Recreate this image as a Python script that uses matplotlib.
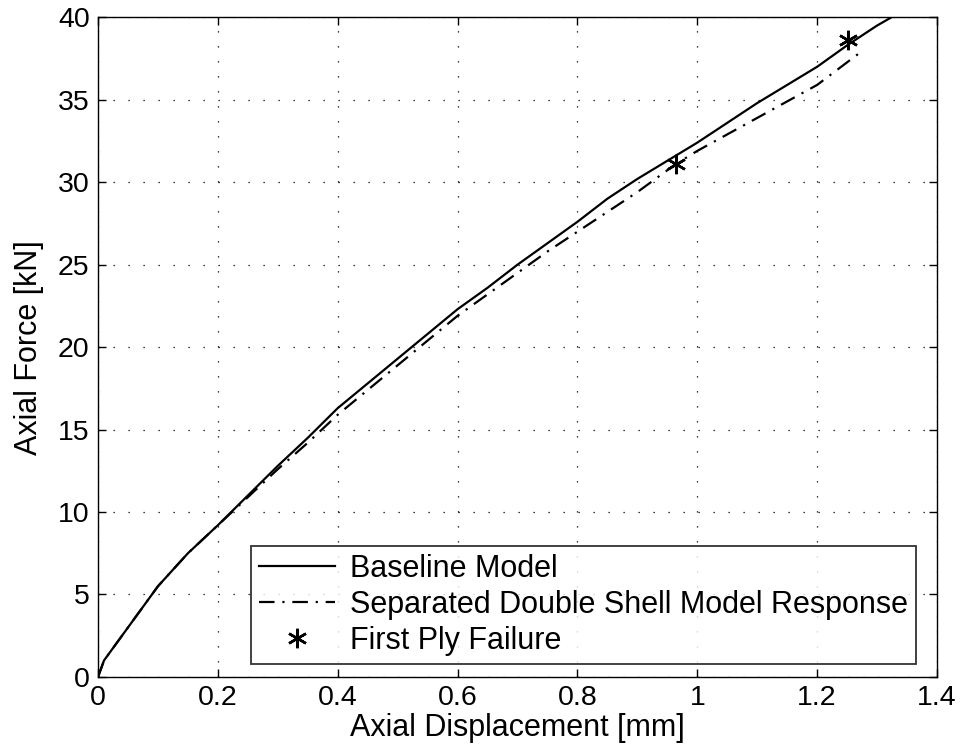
import matplotlib
matplotlib.use("Agg")
import matplotlib.pyplot as plt

plt.rcParams["font.family"] = ["Liberation Sans", "DejaVu Sans"]

# Baseline model curve
disp_base = [0.0, 0.01, 0.03, 0.05, 0.07, 0.10, 0.15, 0.20, 0.25, 0.30, 0.35,
             0.40, 0.45, 0.50, 0.55, 0.60, 0.65, 0.70, 0.75, 0.80, 0.85, 0.90,
             0.95, 1.00, 1.05, 1.10, 1.15, 1.20, 1.25, 1.30, 1.324]
force_base = [0.0, 1.0, 2.0, 3.0, 4.0, 5.5, 7.5, 9.2, 11.0, 12.8, 14.5,
              16.3, 17.8, 19.3, 20.8, 22.3, 23.6, 25.0, 26.3, 27.6, 29.0, 30.2,
              31.3, 32.4, 33.6, 34.8, 35.9, 37.0, 38.3, 39.5, 40.0]

# Separated double shell model
disp_sep = [0.0, 0.01, 0.03, 0.05, 0.07, 0.10, 0.15, 0.20, 0.25, 0.30, 0.35,
            0.40, 0.45, 0.50, 0.55, 0.60, 0.65, 0.70, 0.75, 0.80, 0.85, 0.90,
            0.964, 1.00, 1.05, 1.10, 1.15, 1.20, 1.273]
force_sep = [0.0, 1.0, 2.0, 3.0, 4.0, 5.5, 7.5, 9.2, 10.9, 12.6, 14.2,
             15.9, 17.4, 18.9, 20.4, 21.9, 23.2, 24.5, 25.8, 27.0, 28.2, 29.4,
             31.1, 31.9, 32.9, 33.9, 34.9, 35.9, 37.9]

# First ply failure points
fail_disp = [0.964, 1.251]
fail_force = [31.1, 38.6]

fig = plt.figure(figsize=(9.61, 7.53), dpi=100)
ax = fig.add_axes([0.102, 0.101, 0.873, 0.876])

ax.plot(disp_base, force_base, color="black", lw=1.6, label="Baseline Model")
ax.plot(disp_sep, force_sep, color="black", lw=1.6, dashes=(7, 3.5, 1, 3.5),
        label="Separated Double Shell Model Response")
ax.plot(fail_disp, fail_force, ls="none", marker=(6, 2, 0), ms=14, mew=1.8,
        color="black", label="First Ply Failure")

ax.set_xlim(0, 1.4)
ax.set_ylim(0, 40)
ax.set_xticks([0, 0.2, 0.4, 0.6, 0.8, 1.0, 1.2, 1.4])
ax.set_xticklabels(["0", "0.2", "0.4", "0.6", "0.8", "1", "1.2", "1.4"])
ax.set_yticks(range(0, 41, 5))
ax.tick_params(direction="in", top=True, right=True, labelsize=20.5,
               length=6, width=1, pad=6)
ax.grid(True, color="black", ls=(0, (1, 11)), lw=0.9)
for s in ax.spines.values():
    s.set_linewidth(1)

ax.set_xlabel("Axial Displacement [mm]", fontsize=22, labelpad=1)
ax.set_ylabel("Axial Force [kN]", fontsize=22, labelpad=10)

leg = ax.legend(loc="lower right", bbox_to_anchor=(0.975, 0.02),
                borderaxespad=0, fontsize=22, frameon=True, fancybox=False,
                edgecolor="black", handlelength=2.5, borderpad=0.25,
                labelspacing=0.2, handletextpad=0.5)
leg.get_frame().set_linewidth(1.3)

fig.savefig("out.png", dpi=100)
